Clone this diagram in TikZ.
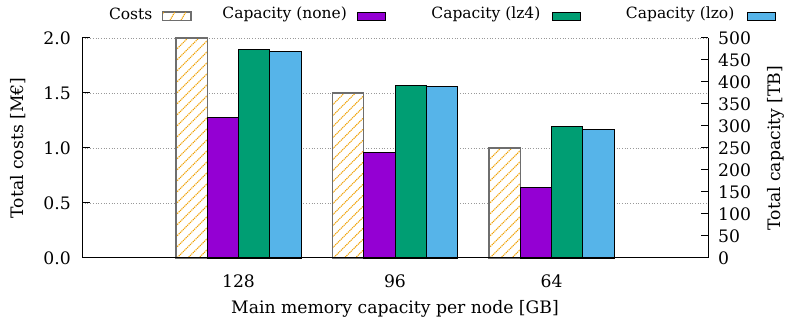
\documentclass[tikz,border=0pt]{standalone}
\usepackage{fontspec}
\setmainfont{DejaVu Serif}
\usepackage{xcolor}
\usetikzlibrary{positioning}

\definecolor{costcol}{HTML}{F0A000}
\definecolor{nonecol}{HTML}{9400D3}
\definecolor{lzfourcol}{HTML}{009E73}
\definecolor{lzocol}{HTML}{56B4E9}
\definecolor{hatchborder}{HTML}{6E6E6E}

\begin{document}
\begin{tikzpicture}[x=1pt,y=1pt,
    font=\fontsize{17.2}{20}\selectfont,
    every node/.style={inner sep=0pt},
    gridline/.style={gray!80,dotted,line width=0.7pt},
    axisline/.style={black,line width=1pt},
    bar/.style={draw=black,line width=0.9pt},
    hatch/.style={costcol,dash pattern=on 1.2pt off 0.8pt,line width=1.1pt},
    costbar/.style={draw=hatchborder,line width=1.3pt},
    keybox/.style={minimum width=28pt,minimum height=8pt,line width=0.9pt,draw=black},
    keytext/.style={font=\fontsize{15.5}{18}\selectfont,yshift=2pt}]
  \useasboundingbox (0,0) rectangle (785,320);

  % horizontal grid, every 0.5 M€
  \foreach \v in {0.5,1.0,1.5,2.0}
    \draw[gridline] (82,62+110*\v) -- (708,62+110*\v);

  % one group of four bars per node size (costs in M€, capacities in TB)
  \foreach \c/\lbl/\cost/\none/\lzf/\lzo in {238.5/128/2.0/320/473/470,
                                              395/96/1.5/240/393/389,
                                              551.5/64/1.0/160/298/292}{
    \fill[white] (\c-62.6,62) rectangle (\c-31.3,62+110*\cost);
    \begin{scope}
      \clip (\c-62.6,62) rectangle (\c-31.3,62+110*\cost);
      \foreach \k in {0,...,24}
        \draw[hatch] (\c-62.6,28+11*\k) -- ++(32,32);
    \end{scope}
    \draw[costbar] (\c-62.6,62) rectangle (\c-31.3,62+110*\cost);
    \draw[bar,fill=nonecol] (\c-31.3,62) rectangle (\c,62+0.44*\none);
    \draw[bar,fill=lzfourcol] (\c,62) rectangle (\c+31.3,62+0.44*\lzf);
    \draw[bar,fill=lzocol] (\c+31.3,62) rectangle (\c+62.6,62+0.44*\lzo);
    \node (xt\lbl) at (\c,39) {\lbl};
  }

  % axes: left, bottom, right
  \draw[axisline] (82,282) -- (82,62) -- (708,62) -- (708,282);
  \foreach \v in {0.0,0.5,1.0,1.5,2.0}{
    \draw[axisline] (82,62+110*\v) -- ++(8,0);
    \node[anchor=east] at (71,62+110*\v) {\v};
  }
  \foreach \t in {0,50,100,150,200,250,300,350,400,450,500}{
    \draw[axisline] (708,62+0.44*\t) -- ++(-7,0);
    \node[anchor=west] at (718,62+0.44*\t) {\t};
  }

  \node (xlabel) at (395,11) {Main memory capacity per node [GB]};
  \node[rotate=90] (ylabel) at (18,172) {Total costs [M€]};
  \node[rotate=90] (y2label) at (776,172) {Total capacity [TB]};

  % key
  \node[keybox,draw=hatchborder,fill=white] (keycost) at (176.5,304) {};
  \begin{scope}
    \clip (keycost.south west) rectangle (keycost.north east);
    \foreach \k in {0,...,3}
      \draw[hatch] (158+11*\k,298) -- ++(7,12);
  \end{scope}
  \draw[draw=hatchborder,line width=0.9pt] (keycost.south west) rectangle (keycost.north east);
  \node[keybox,fill=nonecol] (keynone) at (371.5,304) {};
  \node[keybox,fill=lzfourcol] (keylzf) at (566,304) {};
  \node[keybox,fill=lzocol] (keylzo) at (761,304) {};
  \node[keytext,left=9.5pt of keycost] (txtcost) {Costs};
  \node[keytext,left=10pt of keynone] (txtnone) {Capacity (none)};
  \node[keytext,left=11pt of keylzf] (txtlzf) {Capacity (lz4)};
  \node[keytext,left=12pt of keylzo] (txtlzo) {Capacity (lzo)};
\end{tikzpicture}
\end{document}
